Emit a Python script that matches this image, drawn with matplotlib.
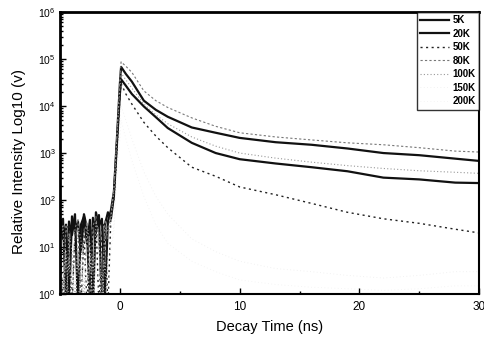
import numpy as np
import matplotlib
matplotlib.use("Agg")
from matplotlib import pyplot as plt
from matplotlib.ticker import LogLocator, MultipleLocator, NullFormatter

plt.rcParams['font.family'] = ['Liberation Sans', 'DejaVu Sans']

# time axis (ns): noisy baseline, rising edge, decay
t_pre = [-5.0, -4.75, -4.5, -4.25, -4.0, -3.75, -3.5, -3.25, -3.0,
         -2.75, -2.5, -2.25, -2.0, -1.75, -1.5, -1.25, -1.0, -0.75]
t_rise = [-0.5, -0.25, 0.0]
t_decay = [0.1, 0.5, 1, 2, 3, 4, 6, 8, 10, 13, 16, 19, 22, 25, 28, 30]

labels = ['5K', '20K', '50K', '80K', '100K', '150K', '200K']

# baseline noise before the pulse
pre_5K = [25, 40, 0.5, 35, 18, 50, 0.5, 30, 45, 12, 38, 0.5, 55, 28, 40, 0.8, 35, 60]
pre_20K = [40, 15, 30, 0.6, 45, 22, 35, 8, 50, 25, 0.5, 42, 20, 48, 0.5, 30, 55, 40]
pre_50K = [15, 0.5, 25, 30, 0.5, 20, 35, 0.5, 22, 0.5, 30, 18, 40, 0.5, 25, 35, 0.5, 45]
pre_80K = [20, 0.5, 30, 12, 0.5, 25, 40, 0.5, 18, 35, 0.5, 28, 45, 10, 0.5, 38, 22, 50]
pre_100K = [10, 30, 0.5, 20, 8, 0.5, 25, 15, 0.5, 30, 12, 0.5, 35, 20, 0.5, 28, 15, 40]
pre_150K = [5, 0.5, 8, 0.5, 3, 0.5, 6, 0.5, 4, 0.5, 7, 0.5, 5, 0.5, 3, 0.5, 6, 10]
pre_200K = [0.5, 4, 0.5, 6, 0.5, 3, 0.5, 5, 0.5, 4, 0.5, 6, 0.5, 3, 0.5, 5, 0.5, 8]

# rising edge
rise_5K = [150, 2000, 30000]
rise_20K = [120, 1500, 18000]
rise_50K = [100, 1200, 15000]
rise_80K = [180, 2500, 40000]
rise_100K = [160, 2200, 25000]
rise_150K = [30, 500, 5000]
rise_200K = [20, 300, 2000]

# decay
dec_5K = [68000, 48000, 33000, 13000, 8300, 5900, 3500, 2700, 2100, 1700, 1500, 1250, 1000, 900, 760, 680]
dec_20K = [37000, 27000, 18000, 9800, 5800, 3400, 1650, 1000, 740, 600, 500, 410, 300, 275, 235, 230]
dec_50K = [30000, 18000, 11000, 4500, 2300, 1300, 500, 320, 190, 130, 85, 55, 40, 32, 24, 20]
dec_80K = [87000, 70000, 52000, 21000, 13000, 9300, 5600, 3700, 2700, 2200, 1900, 1650, 1500, 1300, 1100, 1050]
dec_100K = [50000, 36000, 24000, 11000, 6500, 4200, 2200, 1400, 1000, 780, 640, 540, 470, 420, 390, 370]
dec_150K = [10000, 5000, 2000, 400, 120, 50, 15, 8, 5, 3.5, 3, 2.5, 2.2, 2.5, 3, 3]
dec_200K = [5000, 2000, 700, 120, 30, 12, 5, 3, 2, 1.6, 1.4, 1.3, 1.2, 1.3, 1.5, 1.5]

t = t_pre + t_rise + t_decay
series = [pre_5K + rise_5K + dec_5K,
          pre_20K + rise_20K + dec_20K,
          pre_50K + rise_50K + dec_50K,
          pre_80K + rise_80K + dec_80K,
          pre_100K + rise_100K + dec_100K,
          pre_150K + rise_150K + dec_150K,
          pre_200K + rise_200K + dec_200K]

styles = [dict(color='#111111', lw=1.6, ls='-'),
          dict(color='#111111', lw=1.6, ls='-'),
          dict(color='#222222', lw=1.0, ls=(0, (1.5, 2.5))),
          dict(color='#777777', lw=0.8, ls=(0, (2, 2))),
          dict(color='#999999', lw=0.8, ls=(0, (1, 2))),
          dict(color='#eeeeee', lw=0.6, ls=(0, (1, 3))),
          dict(color='#f2f2f2', lw=0.6, ls=(0, (1, 3)))]

fig = plt.figure(figsize=(4.84, 3.42), dpi=100)
ax = fig.add_axes([0.124, 0.140, 0.866, 0.825])

for y, lab, st in zip(series, labels, styles):
    ax.plot(t, y, label=lab, **st)

ax.set_yscale('log')
ax.set_xlim(-5, 30)
ax.set_ylim(1, 1e6)

ax.set_xticks([0, 10, 20, 30])
ax.xaxis.set_minor_locator(MultipleLocator(5))
ax.yaxis.set_major_locator(LogLocator(base=10, numticks=10))
ax.yaxis.set_minor_locator(LogLocator(base=10, subs=np.arange(2, 10), numticks=20))
ax.yaxis.set_minor_formatter(NullFormatter())

ax.tick_params(which='both', direction='in', top=False, right=False, width=1.0)
ax.tick_params(which='major', length=4)
ax.tick_params(which='minor', length=2)
ax.tick_params(axis='x', labelsize=8.5, pad=5)
ax.tick_params(axis='y', labelsize=7.5, pad=3)

for side in ['top', 'left']:
    ax.spines[side].set_linewidth(2.0)
for side in ['bottom', 'right']:
    ax.spines[side].set_linewidth(1.5)

ax.set_xlabel('Decay Time (ns)', fontsize=10.5, labelpad=5)
ax.set_ylabel('Relative Intensity Log10 (v)', fontsize=11, labelpad=2)
ax.yaxis.set_label_coords(-0.08, 0.47)

leg = ax.legend(loc='upper right', fontsize=7, frameon=True, fancybox=False,
                borderaxespad=0.0, handlelength=2.9, labelspacing=0.36,
                handletextpad=0.4, borderpad=0.35)
leg.get_frame().set_edgecolor('black')
leg.get_frame().set_linewidth(1.0)
for txt in leg.get_texts():
    txt.set_fontweight('bold')

plt.savefig('out.png', dpi=100)
